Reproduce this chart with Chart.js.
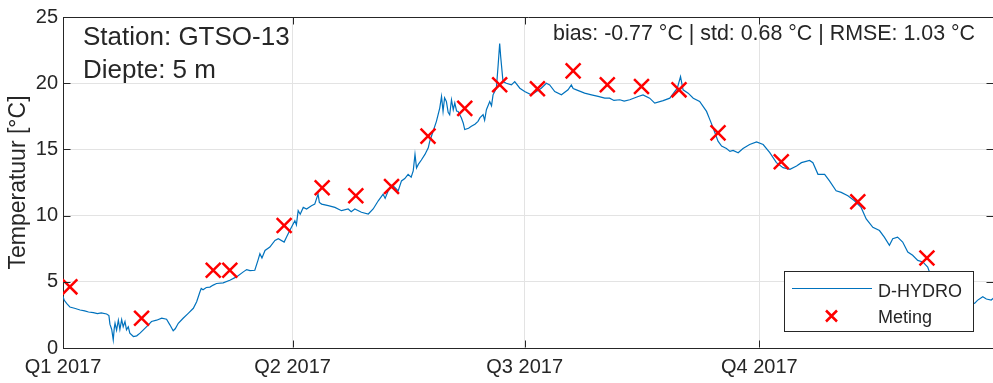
<!DOCTYPE html>
<html>
<head>
<meta charset="utf-8">
<script src="https://cdn.jsdelivr.net/npm/chart.js@4.4.1/dist/chart.umd.min.js"></script>
<style>
  html, body { margin: 0; padding: 0; background: #fff; overflow: hidden; }
  #wrap { width: 993px; height: 383px; overflow: hidden; }
</style>
</head>
<body>
<div id="wrap"><canvas id="chart" width="996" height="383"></canvas></div>
<script>
// Quarter ticks on the day-of-year axis
const quarterDays = [0, 90, 181, 273];
const quarterLabels = ['Q1 2017', 'Q2 2017', 'Q3 2017', 'Q4 2017'];

// Model run (D-HYDRO), day of year 2017 and temperature in degC
const hydroDay = [
  0, 0.5, 1.5, 2.7, 4.5, 6.7, 8.5, 10, 11.9, 13.5, 15, 17.1, 18.0, 18.4, 19.1, 19.7, 20.1, 20.4,
  21.0, 21.7, 22.3, 23.0, 23.6, 24.3, 24.9, 25.6, 26.2, 27.6, 28.9, 30.2, 31.5, 32.8, 34.7, 36.7,
  38.7, 40.6, 41.9, 43.2, 44.0, 45.2, 47.1, 49.1, 51.1, 52.4, 53.7, 54.2, 54.9, 56.2, 57.6, 58.9,
  60.2, 62.8, 65.4, 68.0, 70.7, 72.0, 73.3, 75.2, 76.4, 77.2, 78.0, 79.2, 81.1, 83.1, 84.4, 86.7,
  87.6, 88.9, 90.9, 91.5, 92.2, 93.0, 94.2, 95.5, 97.4, 98.7, 100.0, 100.5, 101.4, 104.0, 106.6,
  109.2, 111.8, 113.0, 114.4, 117.0, 119.7, 121.6, 123.6, 125.5, 126.3, 127.5, 129.0, 130.1, 131.4,
  132.7, 134.0, 135.3, 136.5, 137.3, 138.0, 138.6, 139.3, 140.5, 141.9, 143.2, 143.8, 145.1, 146.4,
  147.7, 148.4, 149.0, 149.6, 150.3, 151.0, 151.6, 152.3, 153.0, 153.6, 154.3, 154.9, 156.2, 156.9,
  157.5, 159.0, 160.1, 161.5, 162.7, 163.5, 164.7, 165.3, 166.0, 167.3, 168.0, 168.6, 169.9, 170.6,
  171.2, 171.6, 171.9, 172.5, 173.8, 175.8, 177.1, 179.1, 181.0, 183.6, 185.6, 187.5, 189.5, 190.8,
  192.8, 195.4, 198.0, 199.3, 200.0, 201.3, 204.5, 207.2, 209.8, 212.4, 214.3, 216.0, 218.3, 220.0,
  222.2, 225.5, 227.4, 230.0, 232.0, 235.3, 237.9, 239.8, 240.8, 242.1, 243.1, 245.1, 247.1, 249.6,
  252.3, 253.6, 254.9, 256.8, 258.2, 260.1, 261.5, 262.7, 264.7, 266.6, 269.2, 271.9, 274.5, 277.1,
  279.7, 282.3, 285.0, 287.6, 289.5, 292.7, 294.0, 296.0, 298.6, 300.5, 303.1, 305.1, 307.7, 310.3,
  312.9, 314.9, 317.5, 320.1, 322.0, 324.0, 325.3, 327.2, 329.2, 331.2, 333.1, 335.1, 337.1, 339.0,
  339.7, 343, 347, 351, 355, 357.4, 358.5, 360.6, 362.0, 363.9, 365
];
const hydroTemp = [
  3.9, 3.6, 3.35, 3.1, 3.0, 2.87, 2.8, 2.72, 2.67, 2.6, 2.65, 2.57, 2.45, 1.8, 1.4, 0.62, 1.5, 1.87,
  1.35, 2.1, 1.4, 2.15, 1.6, 2.0, 1.37, 1.6, 1.12, 0.87, 0.92, 1.12, 1.37, 1.62, 2.0, 2.1,
  2.25, 2.17, 1.75, 1.3, 1.45, 1.87, 2.25, 2.62, 3.0, 3.5, 4.25, 4.5, 4.4, 4.57, 4.6, 4.75,
  4.87, 4.92, 5.12, 5.37, 5.75, 5.92, 5.85, 5.87, 6.6, 7.12, 6.8, 7.37, 7.62, 8.12, 8.25, 8.0,
  8.37, 8.87, 9.62, 9.3, 10.37, 10.1, 10.62, 10.5, 10.75, 10.87, 11.62, 11.0, 10.87, 10.75, 10.62,
  10.37, 10.5, 10.3, 10.5, 10.25, 10.12, 10.5, 11.12, 11.62, 11.3, 11.87, 12.3, 12.12, 11.87,
  12.62, 12.8, 13.12, 12.9, 13.37, 14.62, 13.6, 13.87, 14.2, 14.62, 15.12, 15.62, 16.37, 17.12,
  18.12, 19.0, 17.87, 18.9, 18.62, 17.8, 17.62, 18.75, 18.0, 18.5, 17.9, 17.87, 17.37, 17.0,
  16.5, 16.6, 16.75, 16.9, 17.12, 17.4, 17.62, 17.2, 18.0, 18.62, 18.3, 19.12, 19.62, 21.37,
  23.0, 22.0, 21.37, 20.12, 20.0, 19.87, 20.12, 19.62, 19.37, 19.12, 19.37, 19.62, 20.0, 19.87,
  19.37, 19.12, 19.5, 19.87, 19.6, 19.5, 19.25, 19.12, 19.0, 18.87, 18.87, 18.7, 18.75, 18.65,
  18.75, 19.0, 19.12, 18.87, 18.5, 18.68, 18.87, 19.37, 19.6, 20.5, 19.5, 19.25, 18.87, 18.62,
  17.87, 17.25, 16.62, 15.62, 15.25, 15.07, 14.85, 14.92, 14.75, 15.07, 15.37, 15.57, 15.37, 14.75,
  14.0, 13.62, 13.5, 13.75, 14.0, 14.17, 14.0, 13.12, 13.12, 12.62, 11.87, 11.75, 11.5, 11.12,
  10.62, 9.75, 9.12, 8.87, 8.37, 7.75, 8.25, 8.37, 8.0, 7.25, 7.0, 6.62, 6.5, 6.12,
  5.75, 5.2, 4.6, 4.0, 3.5, 3.37, 3.6, 3.87, 3.7, 3.62, 3.8
];

// Field measurements (Meting)
const metingDay = [2.7, 30.8, 58.9, 65.4, 86.7, 101.6, 114.8, 128.8, 143.1, 157.5,
  171.2, 186, 200, 213.4, 226.8, 241.5, 256.8, 281.6, 311.6, 338.7];
const metingTemp = [4.62, 2.25, 5.87, 5.87, 9.25, 12.1, 11.5, 12.2, 16.0, 18.1,
  19.88, 19.58, 20.93, 19.88, 19.75, 19.5, 16.25, 14.07, 11.05, 6.8];

const stationText = ['Station: GTSO-13', 'Diepte: 5 m'];
const statsText = 'bias: -0.77 \u00B0C | std: 0.68 \u00B0C | RMSE: 1.03 \u00B0C';

const FONT = '"Liberation Sans", Arial, Helvetica, sans-serif';
const INK = '#262626';
const GRID = '#e3e3e3';
const BLUE = '#0072BD';
const RED = '#FF0000';

function toPoints(xs, ys) {
  return xs.map((d, i) => ({ x: d, y: ys[i] }));
}

// Draws a MATLAB style 'x' marker
function drawCross(ctx, cx, cy, half, width) {
  ctx.save();
  ctx.strokeStyle = RED;
  ctx.lineWidth = width;
  ctx.beginPath();
  ctx.moveTo(cx - half, cy - half); ctx.lineTo(cx + half, cy + half);
  ctx.moveTo(cx - half, cy + half); ctx.lineTo(cx + half, cy - half);
  ctx.stroke();
  ctx.restore();
}

// Box outline, inward ticks, annotations and the legend
const decorations = {
  id: 'decorations',
  afterDraw(chart) {
    const { ctx, chartArea: a, scales: { x, y } } = chart;
    const top = Math.round(a.top) + 0.5;
    const right = Math.round(a.right) - 0.5;
    const bottom = Math.round(a.bottom) - 0.5;
    const left = Math.round(a.left) + 0.5;
    ctx.save();
    ctx.strokeStyle = INK;
    ctx.lineWidth = 1;
    ctx.beginPath();
    ctx.moveTo(left, top); ctx.lineTo(right, top);
    ctx.moveTo(right, top); ctx.lineTo(right, bottom);
    const tl = 7;
    y.ticks.forEach(t => {
      const py = Math.round(y.getPixelForValue(t.value)) + 0.5;
      ctx.moveTo(left, py); ctx.lineTo(left + tl, py);
      ctx.moveTo(right, py); ctx.lineTo(right - tl, py);
    });
    x.ticks.forEach(t => {
      const px = Math.round(x.getPixelForValue(t.value)) + 0.5;
      ctx.moveTo(px, bottom); ctx.lineTo(px, bottom - tl);
      ctx.moveTo(px, top); ctx.lineTo(px, top + tl);
    });
    ctx.stroke();

    // station annotation
    ctx.fillStyle = INK;
    ctx.font = '26px ' + FONT;
    ctx.textAlign = 'left';
    ctx.textBaseline = 'alphabetic';
    ctx.fillText(stationText[0], 83, 45);
    ctx.fillText(stationText[1], 83, 77.5);

    // statistics
    ctx.font = '21.4px ' + FONT;
    ctx.textAlign = 'right';
    ctx.fillText(statsText, 975, 39.5);

    // legend
    const lx = 784.5, ly = 271.5, lw = 189, lh = 60;
    ctx.fillStyle = '#fff';
    ctx.fillRect(lx, ly, lw, lh);
    ctx.strokeStyle = INK;
    ctx.strokeRect(lx, ly, lw, lh);
    const ds = chart.data.datasets;
    const hydro = ds.find(d => d.label === 'D-HYDRO');
    const meting = ds.find(d => d.label === 'Meting');
    ctx.strokeStyle = BLUE;
    ctx.lineWidth = 1.2;
    ctx.beginPath();
    ctx.moveTo(792, 288.5); ctx.lineTo(872, 288.5);
    ctx.stroke();
    drawCross(ctx, 831.5, 316, 5.5, 2.5);
    ctx.fillStyle = INK;
    ctx.font = '18px ' + FONT;
    ctx.textAlign = 'left';
    ctx.fillText(hydro.label, 878, 296.5);
    ctx.fillText(meting.label, 878, 323.3);
    ctx.restore();
  }
};

new Chart(document.getElementById('chart'), {
  type: 'line',
  data: {
    datasets: [
      {
        label: 'Meting',
        data: toPoints(metingDay, metingTemp),
        showLine: false,
        pointStyle: 'crossRot',
        pointRadius: 10.5,
        pointBorderWidth: 2.5,
        pointBorderColor: RED,
        pointBackgroundColor: RED,
        order: 0
      },
      {
        label: 'D-HYDRO',
        data: toPoints(hydroDay, hydroTemp),
        borderColor: BLUE,
        borderWidth: 1.2,
        pointRadius: 0,
        tension: 0,
        order: 1
      }
    ]
  },
  options: {
    responsive: false,
    animation: false,
    events: [],
    layout: { autoPadding: false, padding: { left: 0, top: 15, right: 2, bottom: 0 } },
    plugins: { legend: { display: false }, tooltip: { enabled: false } },
    scales: {
      x: {
        type: 'linear',
        min: 0,
        max: 365,
        afterBuildTicks: scale => { scale.ticks = quarterDays.map(v => ({ value: v })); },
        afterFit: scale => { scale.height = 35; },
        grid: { color: GRID, drawTicks: false },
        border: { display: true, color: INK, width: 1 },
        ticks: {
          padding: 7,
          color: INK,
          font: { family: FONT, size: 20 },
          maxRotation: 0,
          autoSkip: false,
          callback: v => quarterLabels[quarterDays.indexOf(v)]
        }
      },
      y: {
        min: 0,
        max: 25,
        afterFit: scale => { scale.width = 63; },
        grid: { color: GRID, drawTicks: false },
        border: { display: true, color: INK, width: 1 },
        ticks: {
          stepSize: 5,
          padding: 5,
          color: INK,
          font: { family: FONT, size: 20 }
        },
        title: {
          display: true,
          text: 'Temperatuur [\u00B0C]',
          color: INK,
          font: { family: FONT, size: 23 },
          padding: { top: 5, bottom: 0 }
        }
      }
    }
  },
  plugins: [decorations]
});
</script>
</body>
</html>
